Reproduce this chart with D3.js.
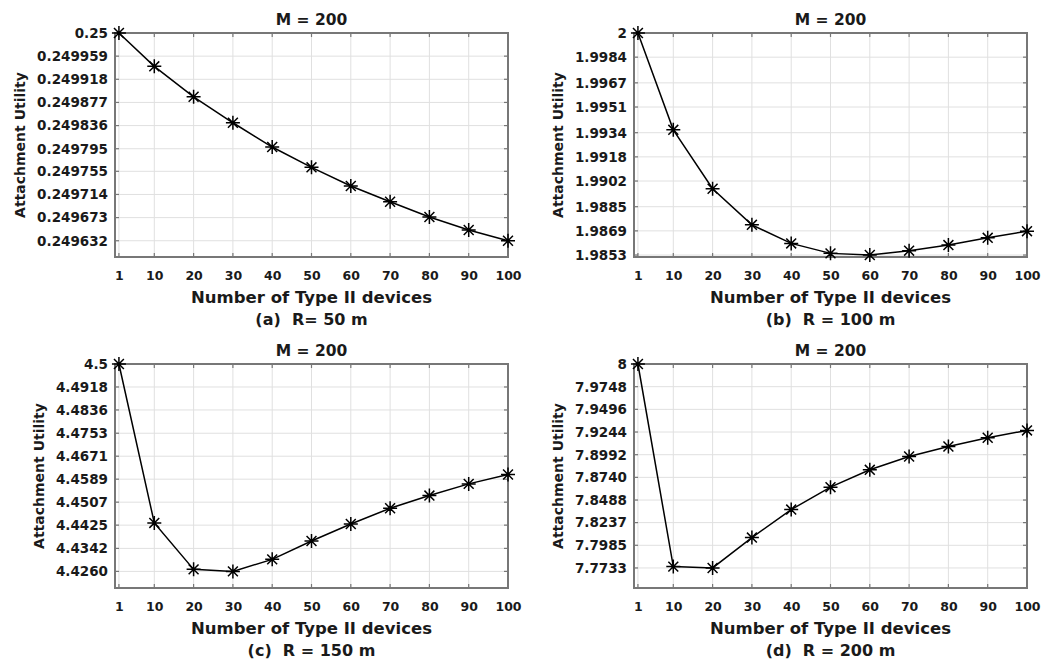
<!DOCTYPE html>
<html>
<head>
<meta charset="utf-8">
<script src="https://cdn.jsdelivr.net/npm/d3@7"></script>
<style>
  body { margin: 0; background: #fff; }
  svg text { font-family: "DejaVu Sans", sans-serif; font-weight: bold; fill: #1a1a1a; }
  .caption { white-space: pre; }
</style>
</head>
<body>
<div id="chart"></div>
<script>
// number of Type II devices (shared x values)
const typeIIDevices = [1, 10, 20, 30, 40, 50, 60, 70, 80, 90, 100];
const xTickValues = [1, 10, 20, 30, 40, 50, 60, 70, 80, 90, 100];

// attachment utility
const utilityR50 = [0.25, 0.249941, 0.249887, 0.249841, 0.249798, 0.249762, 0.249729, 0.249701, 0.249674, 0.249651, 0.249632];
const utilityR100 = [2, 1.99359, 1.98969, 1.98730, 1.98607, 1.98541, 1.98530, 1.98559, 1.98596, 1.98644, 1.98688];
const utilityR150 = [4.5, 4.44328, 4.42672, 4.4260, 4.43029, 4.43684, 4.44292, 4.44852, 4.45305, 4.45722, 4.46056];
const utilityR200 = [8, 7.7748, 7.7733, 7.8071, 7.8382, 7.8631, 7.8824, 7.8972, 7.9083, 7.9180, 7.9262];

// y tick labels as printed
const yTicksR50 = ["0.249632", "0.249673", "0.249714", "0.249755", "0.249795", "0.249836", "0.249877", "0.249918", "0.249959", "0.25"];
const yTicksR100 = ["1.9853", "1.9869", "1.9885", "1.9902", "1.9918", "1.9934", "1.9951", "1.9967", "1.9984", "2"];
const yTicksR150 = ["4.4260", "4.4342", "4.4425", "4.4507", "4.4589", "4.4671", "4.4753", "4.4836", "4.4918", "4.5"];
const yTicksR200 = ["7.7733", "7.7985", "7.8237", "7.8488", "7.8740", "7.8992", "7.9244", "7.9496", "7.9748", "8"];

// y axis limits [low, high] of each panel
const yLimitsR50 = [0.2496032, 0.25];
const yLimitsR100 = [1.98517, 2];
const yLimitsR150 = [4.42007, 4.5];
const yLimitsR200 = [7.75103, 8];

const panelTitles = ["M = 200", "M = 200", "M = 200", "M = 200"];
const panelCaptions = ["(a)  R= 50 m", "(b)  R = 100 m", "(c)  R = 150 m", "(d)  R = 200 m"];

const svg = d3.select("#chart").append("svg")
  .attr("width", 1043)
  .attr("height", 660);

// custom MATLAB style '*' marker
function asterisk(r) {
  const d = r * Math.SQRT1_2;
  return `M${-r},0L${r},0M0,${-r}L0,${r}M${-d},${-d}L${d},${d}M${-d},${d}L${d},${-d}`;
}

function drawPanel(cfg) {
  const g = svg.append("g");
  const x = d3.scaleLinear().domain([0, 100]).range([cfg.left, cfg.right]);
  const y = d3.scaleLinear().domain(cfg.yLimits).range([cfg.bottom, cfg.top]);
  const yTickNums = cfg.yTicks.map(t => +t);

  // grid
  g.append("g").selectAll("line.vgrid").data(xTickValues).join("line")
    .attr("x1", d => x(d)).attr("x2", d => x(d))
    .attr("y1", cfg.top).attr("y2", cfg.bottom)
    .attr("stroke", "#e0e0e0").attr("stroke-width", 1);
  g.append("g").selectAll("line.hgrid").data(yTickNums).join("line")
    .attr("y1", d => y(d)).attr("y2", d => y(d))
    .attr("x1", cfg.left).attr("x2", cfg.right)
    .attr("stroke", "#e0e0e0").attr("stroke-width", 1);

  // axes with inward ticks on all four sides
  const tickLen = 4;
  const xAxis = d3.axisBottom(x).tickValues(xTickValues).tickSize(0).tickPadding(14).tickFormat(d3.format("d"));
  const xAxisG = g.append("g").attr("transform", `translate(0,${cfg.bottom})`).call(xAxis);
  xAxisG.select(".domain").remove();
  xAxisG.selectAll("text").attr("font-size", 12.5).attr("fill", "#1a1a1a");

  const yAxis = d3.axisLeft(y).tickValues(yTickNums).tickSize(0).tickPadding(7)
    .tickFormat((d, i) => cfg.yTicks[i]);
  const yAxisG = g.append("g").attr("transform", `translate(${cfg.left},0)`).call(yAxis);
  yAxisG.select(".domain").remove();
  yAxisG.selectAll("text").attr("font-size", 13.5).attr("fill", "#1a1a1a");

  const tickG = g.append("g").attr("stroke", "#777").attr("stroke-width", 1.2);
  xTickValues.forEach(v => {
    tickG.append("line").attr("x1", x(v)).attr("x2", x(v)).attr("y1", cfg.bottom).attr("y2", cfg.bottom - tickLen);
    tickG.append("line").attr("x1", x(v)).attr("x2", x(v)).attr("y1", cfg.top).attr("y2", cfg.top + tickLen);
  });
  yTickNums.forEach(v => {
    tickG.append("line").attr("y1", y(v)).attr("y2", y(v)).attr("x1", cfg.left).attr("x2", cfg.left + tickLen);
    tickG.append("line").attr("y1", y(v)).attr("y2", y(v)).attr("x1", cfg.right).attr("x2", cfg.right - tickLen);
  });

  g.append("rect")
    .attr("x", cfg.left).attr("y", cfg.top)
    .attr("width", cfg.right - cfg.left).attr("height", cfg.bottom - cfg.top)
    .attr("fill", "none").attr("stroke", "#777").attr("stroke-width", 2);

  // data line + markers
  const pts = typeIIDevices.map((d, i) => [d, cfg.values[i]]);
  g.append("path")
    .datum(pts)
    .attr("fill", "none")
    .attr("stroke", "#000")
    .attr("stroke-width", 1.5)
    .attr("d", d3.line().x(d => x(d[0])).y(d => y(d[1])));

  g.selectAll(".marker").data(pts).join("path")
    .attr("class", "marker")
    .attr("transform", d => `translate(${x(d[0])},${y(d[1])})`)
    .attr("d", asterisk(7))
    .attr("stroke", "#000")
    .attr("stroke-width", 1.5)
    .attr("fill", "none");

  const cx = (cfg.left + cfg.right) / 2;

  // title
  g.append("text")
    .attr("x", cx).attr("y", cfg.top - 8)
    .attr("text-anchor", "middle")
    .attr("font-size", 15.5)
    .text(cfg.title);

  // x label and caption
  g.append("text")
    .attr("x", cx).attr("y", cfg.bottom + 46)
    .attr("text-anchor", "middle")
    .attr("font-size", 16.5)
    .text("Number of Type II devices");

  g.append("text")
    .attr("class", "caption")
    .attr("x", cx).attr("y", cfg.bottom + 68)
    .attr("text-anchor", "middle")
    .attr("font-size", 16)
    .text(cfg.caption);

  // y label sits left of the tick labels
  const tickBox = yAxisG.node().getBBox();
  const labelX = cfg.left + tickBox.x - 17;
  g.append("text")
    .attr("transform", "rotate(-90)")
    .attr("x", -(cfg.top + cfg.bottom) / 2)
    .attr("y", labelX)
    .attr("dominant-baseline", "central")
    .attr("text-anchor", "middle")
    .attr("font-size", 14)
    .text("Attachment Utility");
}

drawPanel({ left: 115, right: 508, top: 33, bottom: 257, values: utilityR50, yTicks: yTicksR50, yLimits: yLimitsR50, title: panelTitles[0], caption: panelCaptions[0] });
drawPanel({ left: 634, right: 1027, top: 33, bottom: 257, values: utilityR100, yTicks: yTicksR100, yLimits: yLimitsR100, title: panelTitles[1], caption: panelCaptions[1] });
drawPanel({ left: 115, right: 508, top: 364, bottom: 588, values: utilityR150, yTicks: yTicksR150, yLimits: yLimitsR150, title: panelTitles[2], caption: panelCaptions[2] });
drawPanel({ left: 634, right: 1027, top: 364, bottom: 588, values: utilityR200, yTicks: yTicksR200, yLimits: yLimitsR200, title: panelTitles[3], caption: panelCaptions[3] });
</script>
</body>
</html>
